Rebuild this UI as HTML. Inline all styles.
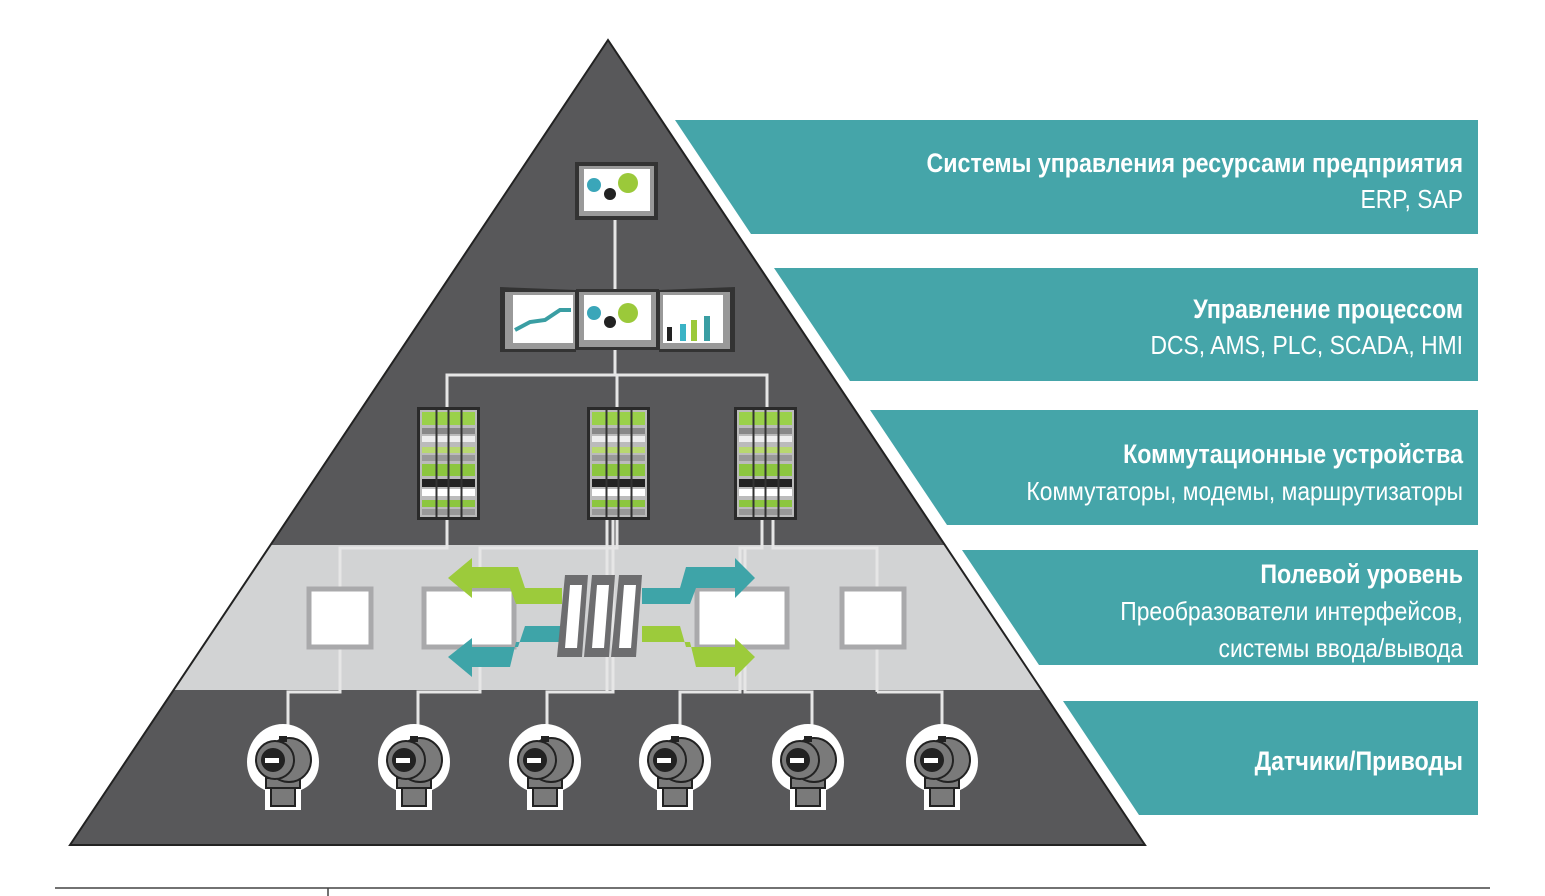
<!DOCTYPE html>
<html><head><meta charset="utf-8"><style>
body{margin:0;background:#fff;width:1545px;height:896px;overflow:hidden}
svg{display:block}
.t{font-family:"Liberation Sans Narrow","Liberation Sans",sans-serif;fill:#fff;text-anchor:end}
.b{font-weight:bold;font-size:27px}
.r{font-size:26px}
</style></head><body>
<svg width="1545" height="896" viewBox="0 0 1545 896">
<defs>
<clipPath id="pyr"><polygon points="608,40 1145,845 70,845"/></clipPath>
<g id="srv">
<rect x="0" y="0" width="63" height="113" fill="#2a2a2a"/>
<rect x="3" y="3" width="57" height="107" fill="#bbb"/>
<rect x="5" y="5" width="53" height="13" fill="#9ad14a"/>
<rect x="5" y="21" width="53" height="6" fill="#888"/><rect x="5" y="29" width="53" height="6" fill="#eee"/>
<rect x="5" y="40" width="53" height="6" fill="#b8d870"/><rect x="5" y="48" width="53" height="6" fill="#999"/>
<rect x="5" y="57" width="53" height="12" fill="#8cc63f"/>
<rect x="5" y="72" width="53" height="8" fill="#222"/><rect x="5" y="82" width="53" height="7" fill="#fff"/>
<rect x="5" y="93" width="53" height="7" fill="#8cc63f"/><rect x="5" y="102" width="53" height="6" fill="#999"/>
<path d="M19.5 3V110M31.5 3V110M44.5 3V110" stroke="#333" stroke-width="2"/>
</g>
<g id="sen">
<path d="M-36 0a36 38 0 1 1 72 0c0 22-18 28-18 28v20h-36v-20s-18-6-18-28z" fill="#fff"/>
<rect x="-12" y="18" width="24" height="26" fill="#7a7a7a" stroke="#222" stroke-width="2"/>
<rect x="-17" y="16" width="34" height="10" fill="#7a7a7a" stroke="#222" stroke-width="2"/>
<circle cx="6" cy="-2" r="22" fill="#7a7a7a" stroke="#222" stroke-width="2"/>
<circle cx="-8" cy="-2" r="19" fill="#7a7a7a" stroke="#222" stroke-width="2"/>
<circle cx="-10" cy="-2" r="12" fill="#222"/>
<rect x="-18" y="-4" width="14" height="5" fill="#fff"/>
<rect x="-4" y="-26" width="8" height="6" fill="#222"/>
</g>
</defs>
<polygon points="675,120 1478,120 1478,234 751,234" fill="#45a5a9"/>
<polygon points="774,268 1478,268 1478,381 850,381" fill="#45a5a9"/>
<polygon points="870,410 1478,410 1478,525 947,525" fill="#45a5a9"/>
<polygon points="962,550 1478,550 1478,665 1039,665" fill="#45a5a9"/>
<polygon points="1063,701 1478,701 1478,815 1139,815" fill="#45a5a9"/>
<g transform="translate(1463 0) scale(0.86 1) translate(-1463 0)">
<text class="t b" x="1463" y="172">Системы управления ресурсами предприятия</text>
<text class="t b" x="1463" y="318">Управление процессом</text>
<text class="t b" x="1463" y="463">Коммутационные устройства</text>
<text class="t b" x="1463" y="583">Полевой уровень</text>
<text class="t b" x="1463" y="770">Датчики/Приводы</text>
</g>
<g transform="translate(1463 0) scale(0.88 1) translate(-1463 0)">
<text class="t r" x="1463" y="208">ERP, SAP</text>
<text class="t r" x="1463" y="354">DCS, AMS, PLC, SCADA, HMI</text>
<text class="t r" x="1463" y="500">Коммутаторы, модемы, маршрутизаторы</text>
<text class="t r" x="1463" y="620">Преобразователи интерфейсов,</text>
<text class="t r" x="1463" y="657">системы ввода/вывода</text>
</g>
<g clip-path="url(#pyr)">
<rect x="0" y="0" width="1545" height="896" fill="#58585a"/>
<rect x="0" y="545" width="1545" height="145" fill="#d2d3d4"/>
</g>
<polygon points="608,40 1145,845 70,845" fill="none" stroke="#222" stroke-width="2"/>
<g stroke="#e6e6e6" stroke-width="3" fill="none">
<path d="M615 218V295M615 348V375M447 408V375H767V408M617 375V408"/>
<path d="M447 520V548H340V692H288V730"/>
<path d="M617 520V548H480V692H418V730"/>
<path d="M613 520V548V692H547V730"/>
<path d="M607 520V692"/>
<path d="M762 520V548H740V692H680V730"/>
<path d="M773 520V548H877V692"/>
<path d="M745 548V692H812V730"/>
<path d="M877 692H942V730"/>
</g>
<rect x="575" y="162" width="83" height="58" fill="#333"/>
<rect x="579" y="166" width="75" height="50" fill="#999"/>
<rect x="584" y="169" width="66" height="42" fill="#fff"/>
<circle cx="594" cy="185" r="7" fill="#3aa6b9"/><circle cx="628" cy="183" r="10" fill="#9bc93a"/><circle cx="610" cy="194" r="6" fill="#222"/>
<polygon points="500,287 576,290 576,352 500,352" fill="#333"/>
<rect x="505" y="292" width="70" height="57" fill="#999"/><rect x="513" y="295" width="60" height="48" fill="#fff"/>
<path d="M515 330L530 322L545 320L560 310H571" stroke="#3a9ea3" stroke-width="4" fill="none"/>
<rect x="576" y="289" width="83" height="61" fill="#333"/><rect x="579" y="292" width="77" height="55" fill="#999"/><rect x="584" y="295" width="67" height="45" fill="#fff"/>
<circle cx="594" cy="313" r="7" fill="#3aa6b9"/><circle cx="628" cy="313" r="10" fill="#9bc93a"/><circle cx="610" cy="322" r="6" fill="#222"/>
<polygon points="659,290 735,287 735,352 659,352" fill="#333"/>
<rect x="660" y="292" width="70" height="57" fill="#999"/><rect x="663" y="295" width="60" height="48" fill="#fff"/>
<rect x="667" y="327" width="5" height="14" fill="#222"/><rect x="680" y="324" width="6" height="17" fill="#3ab3c6"/><rect x="691" y="320" width="6" height="21" fill="#9bc93a"/><rect x="704" y="316" width="6" height="25" fill="#3a9ea3"/>
<use href="#srv" x="417" y="407"/><use href="#srv" x="587" y="407"/><use href="#srv" x="734" y="407"/>
<g fill="#fff" stroke="#a9a9ab" stroke-width="5">
<rect x="309" y="589" width="62" height="58"/><rect x="424" y="589" width="90" height="58"/>
<rect x="697" y="589" width="90" height="58"/><rect x="842" y="589" width="62" height="58"/>
</g>
<polygon points="562,588 525,588 518,567 472,567 472,558 448,578 472,598 472,588 510,588 516,604 562,604" fill="#9ccb3b"/>
<polygon points="562,626 525,626 518,647 472,647 472,638 448,657 472,677 472,667 510,667 516,642 562,642" fill="#3ea4a8"/>
<polygon points="642,588 680,588 686,567 735,567 735,558 755,578 735,598 735,588 696,588 690,604 642,604" fill="#3ea4a8"/>
<polygon points="642,626 680,626 686,647 735,647 735,638 755,657 735,677 735,667 696,667 690,642 642,642" fill="#9ccb3b"/>
<g fill="#6d6d6f"><polygon points="565,575 588,575 582,657 557,657"/><polygon points="592,575 615,575 609,657 584,657"/><polygon points="619,575 642,575 636,657 611,657"/></g>
<g fill="#fff"><polygon points="570,585 582,585 577,648 565,648"/><polygon points="597,585 609,585 604,648 592,648"/><polygon points="624,585 636,585 631,648 619,648"/></g>
<use href="#sen" x="283" y="762"/><use href="#sen" x="414" y="762"/><use href="#sen" x="545" y="762"/>
<use href="#sen" x="675" y="762"/><use href="#sen" x="808" y="762"/><use href="#sen" x="942" y="762"/>
<path d="M55 888H1490M328 888V896" stroke="#444" stroke-width="1.5"/>
</svg>
</body></html>
